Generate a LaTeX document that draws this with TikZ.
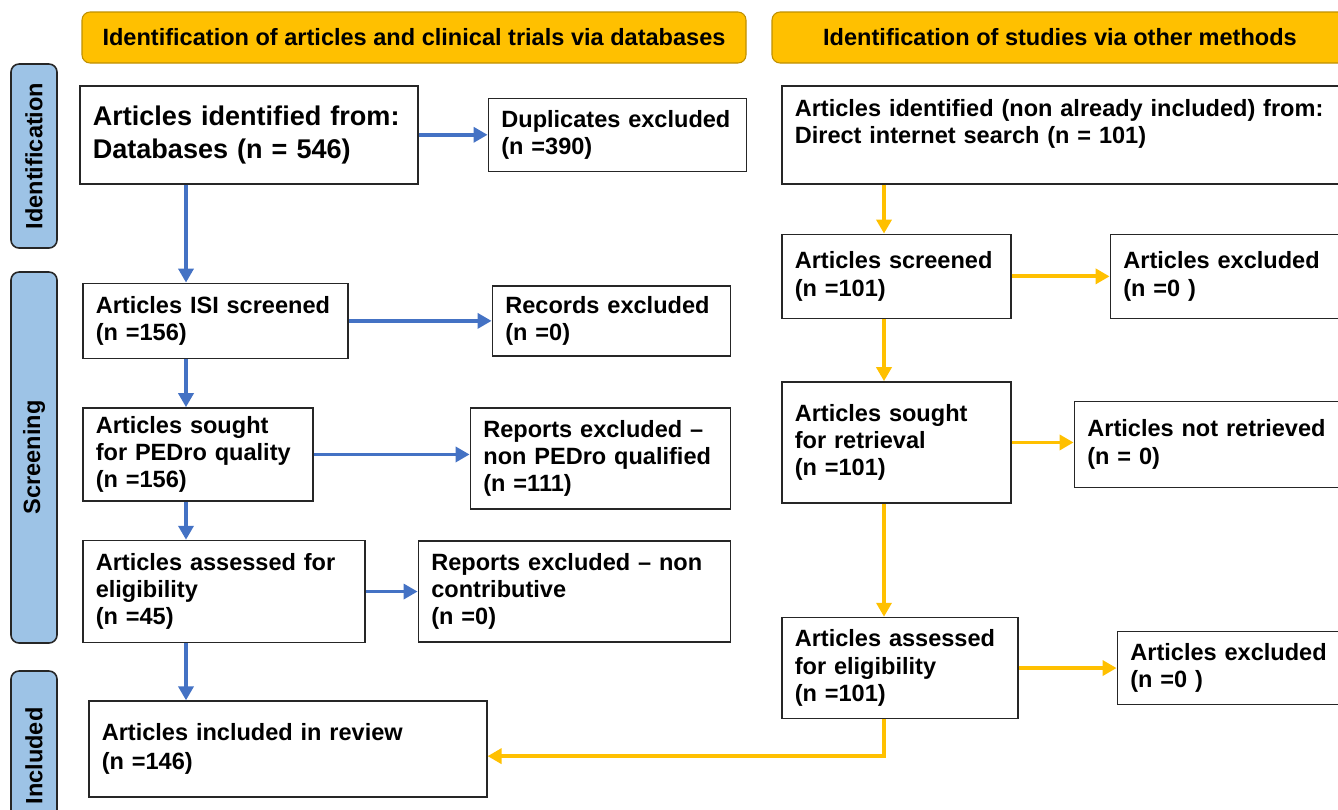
\documentclass[tikz,border=0pt]{standalone}
\usepackage{fontspec}
\setmainfont{Liberation Sans}
\usetikzlibrary{arrows.meta,positioning}
\definecolor{flowblue}{RGB}{68,114,196}
\definecolor{flowgold}{RGB}{255,192,0}
\definecolor{headedge}{RGB}{191,144,0}
\definecolor{phasefill}{RGB}{157,195,230}
\tikzstyle{header}=[draw=headedge, fill=flowgold, rounded corners=0.16cm, line width=0.6pt, minimum height=1.02cm, font=\bfseries\fontsize{13.4}{16}\selectfont]
\tikzstyle{phase}=[draw=black!85, fill=phasefill, rounded corners=0.16cm, line width=0.9pt, rotate=90, minimum height=0.92cm, font=\bfseries\fontsize{13.4}{16}\selectfont]
\tikzstyle{record}=[draw=black!85, fill=white, line width=0.9pt, align=left, inner xsep=0.26cm, inner ysep=0pt, font=\bfseries\fontsize{13.4}{15.5}\selectfont]
\tikzstyle{blueflow}=[draw=flowblue, line width=2.2pt, -{Triangle[length=0.28cm,width=0.3cm]}]
\tikzstyle{goldflow}=[draw=flowgold, line width=2.2pt, -{Triangle[length=0.28cm,width=0.3cm]}]

\begin{document}
\begin{tikzpicture}
\useasboundingbox (0,0) rectangle (26.76,-16.18);
% headers and phases
\node[header, minimum width=13.28cm] (hdb) at (8.28,-0.75) {Identification of articles and clinical trials via databases};
\node[header, minimum width=11.52cm] (hother) at (21.2,-0.75) {Identification of studies via other methods};
\node[phase, minimum width=3.68cm] (pid) at (0.68,-3.12) {Identification};
\node[phase, minimum width=7.42cm] (pscr) at (0.68,-9.15) {Screening};
\node[phase, minimum width=3.4cm] (pinc) at (0.68,-15.12) {Included};
% databases
\node[record, text width=6.24cm, minimum height=1.96cm, anchor=north west, font=\bfseries\fontsize{15.4}{18.5}\selectfont] (a1) at (1.58,-1.70) {Articles identified from:\\Databases (n = 546)};
\node[record, text width=4.64cm, minimum height=1.46cm, right=1.38cm of a1] (dup) {Duplicates excluded\\(n =390)};
\node[record, text width=4.78cm, minimum height=1.50cm, below right=1.96cm and 0.06cm of a1.south west] (a2) {Articles ISI screened\\(n =156)};
\node[record, text width=4.24cm, minimum height=1.40cm, right=2.86cm of a2] (rec) {Records excluded\\(n =0)};
\node[record, text width=4.08cm, minimum height=1.86cm, below right=0.96cm and 0cm of a2.south west] (a3) {Articles sought\\for PEDro quality\\(n =156)};
\node[record, text width=4.68cm, minimum height=2.02cm, right=3.12cm of a3, yshift=-0.08cm] (rep) {Reports excluded --\\non PEDro qualified\\(n =111)};
\node[record, text width=5.12cm, minimum height=2.04cm, below right=0.76cm and 0cm of a3.south west] (a4) {Articles assessed for\\eligibility\\(n =45)};
\node[record, text width=5.72cm, minimum height=2.02cm, right=1.04cm of a4] (rep2) {Reports excluded -- non\\contributive\\(n =0)};
\node[record, text width=7.44cm, minimum height=1.92cm, below right=1.14cm and 0.12cm of a4.south west, font=\bfseries\fontsize{13.4}{16.5}\selectfont] (inc) {Articles included in review\\(n =146)};
% other methods
\node[record, text width=10.88cm, minimum height=1.96cm, anchor=north west] (b1) at (15.62,-1.70) {Articles identified (non already included) from:\\Direct internet search (n = 101)\\\mbox{}};
\node[record, text width=4.06cm, minimum height=1.68cm, below right=0.98cm and 0cm of b1.south west] (b2) {Articles screened\\(n =101)};
\node[record, text width=4.32cm, minimum height=1.68cm, right=1.96cm of b2] (exc1) {Articles excluded\\(n =0 )};
\node[record, text width=4.06cm, minimum height=2.42cm, below right=1.24cm and 0cm of b2.south west] (b3) {Articles sought\\for retrieval\\(n =101)};
\node[record, text width=5.04cm, minimum height=1.72cm, right=1.24cm of b3, yshift=-0.04cm] (notret) {Articles not retrieved\\(n = 0)};
\node[record, text width=4.20cm, minimum height=2.02cm, below right=2.26cm and 0cm of b3.south west] (b4) {Articles assessed\\for eligibility\\(n =101)};
\node[record, text width=4.16cm, minimum height=1.46cm, right=1.96cm of b4] (exc2) {Articles excluded\\(n =0 )};
% lanes of the vertical arrows
\coordinate (bluelane) at (3.72,0);
\coordinate (goldlane) at (17.68,0);
\draw[blueflow] (a1.east) -- (a1.east -| dup.west);
\draw[blueflow] (a1.south -| bluelane) -- (a2.north -| bluelane);
\draw[blueflow] (a2.east) -- (a2.east -| rec.west);
\draw[blueflow] (a2.south -| bluelane) -- (a3.north -| bluelane);
\draw[blueflow] (a3.east) -- (a3.east -| rep.west);
\draw[blueflow] (a3.south -| bluelane) -- (a4.north -| bluelane);
\draw[blueflow] (a4.east) -- (a4.east -| rep2.west);
\draw[blueflow] (a4.south -| bluelane) -- (inc.north -| bluelane);
\draw[goldflow] (b1.south -| goldlane) -- (b2.north -| goldlane);
\draw[goldflow] (b2.east) -- (b2.east -| exc1.west);
\draw[goldflow] (b2.south -| goldlane) -- (b3.north -| goldlane);
\draw[goldflow] (b3.east) -- (b3.east -| notret.west);
\draw[goldflow] (b3.south -| goldlane) -- (b4.north -| goldlane);
\draw[goldflow] (b4.east) -- (b4.east -| exc2.west);
\draw[goldflow] (b4.south -| goldlane) |- ([yshift=-0.14cm]inc.east);
\end{tikzpicture}
\end{document}
